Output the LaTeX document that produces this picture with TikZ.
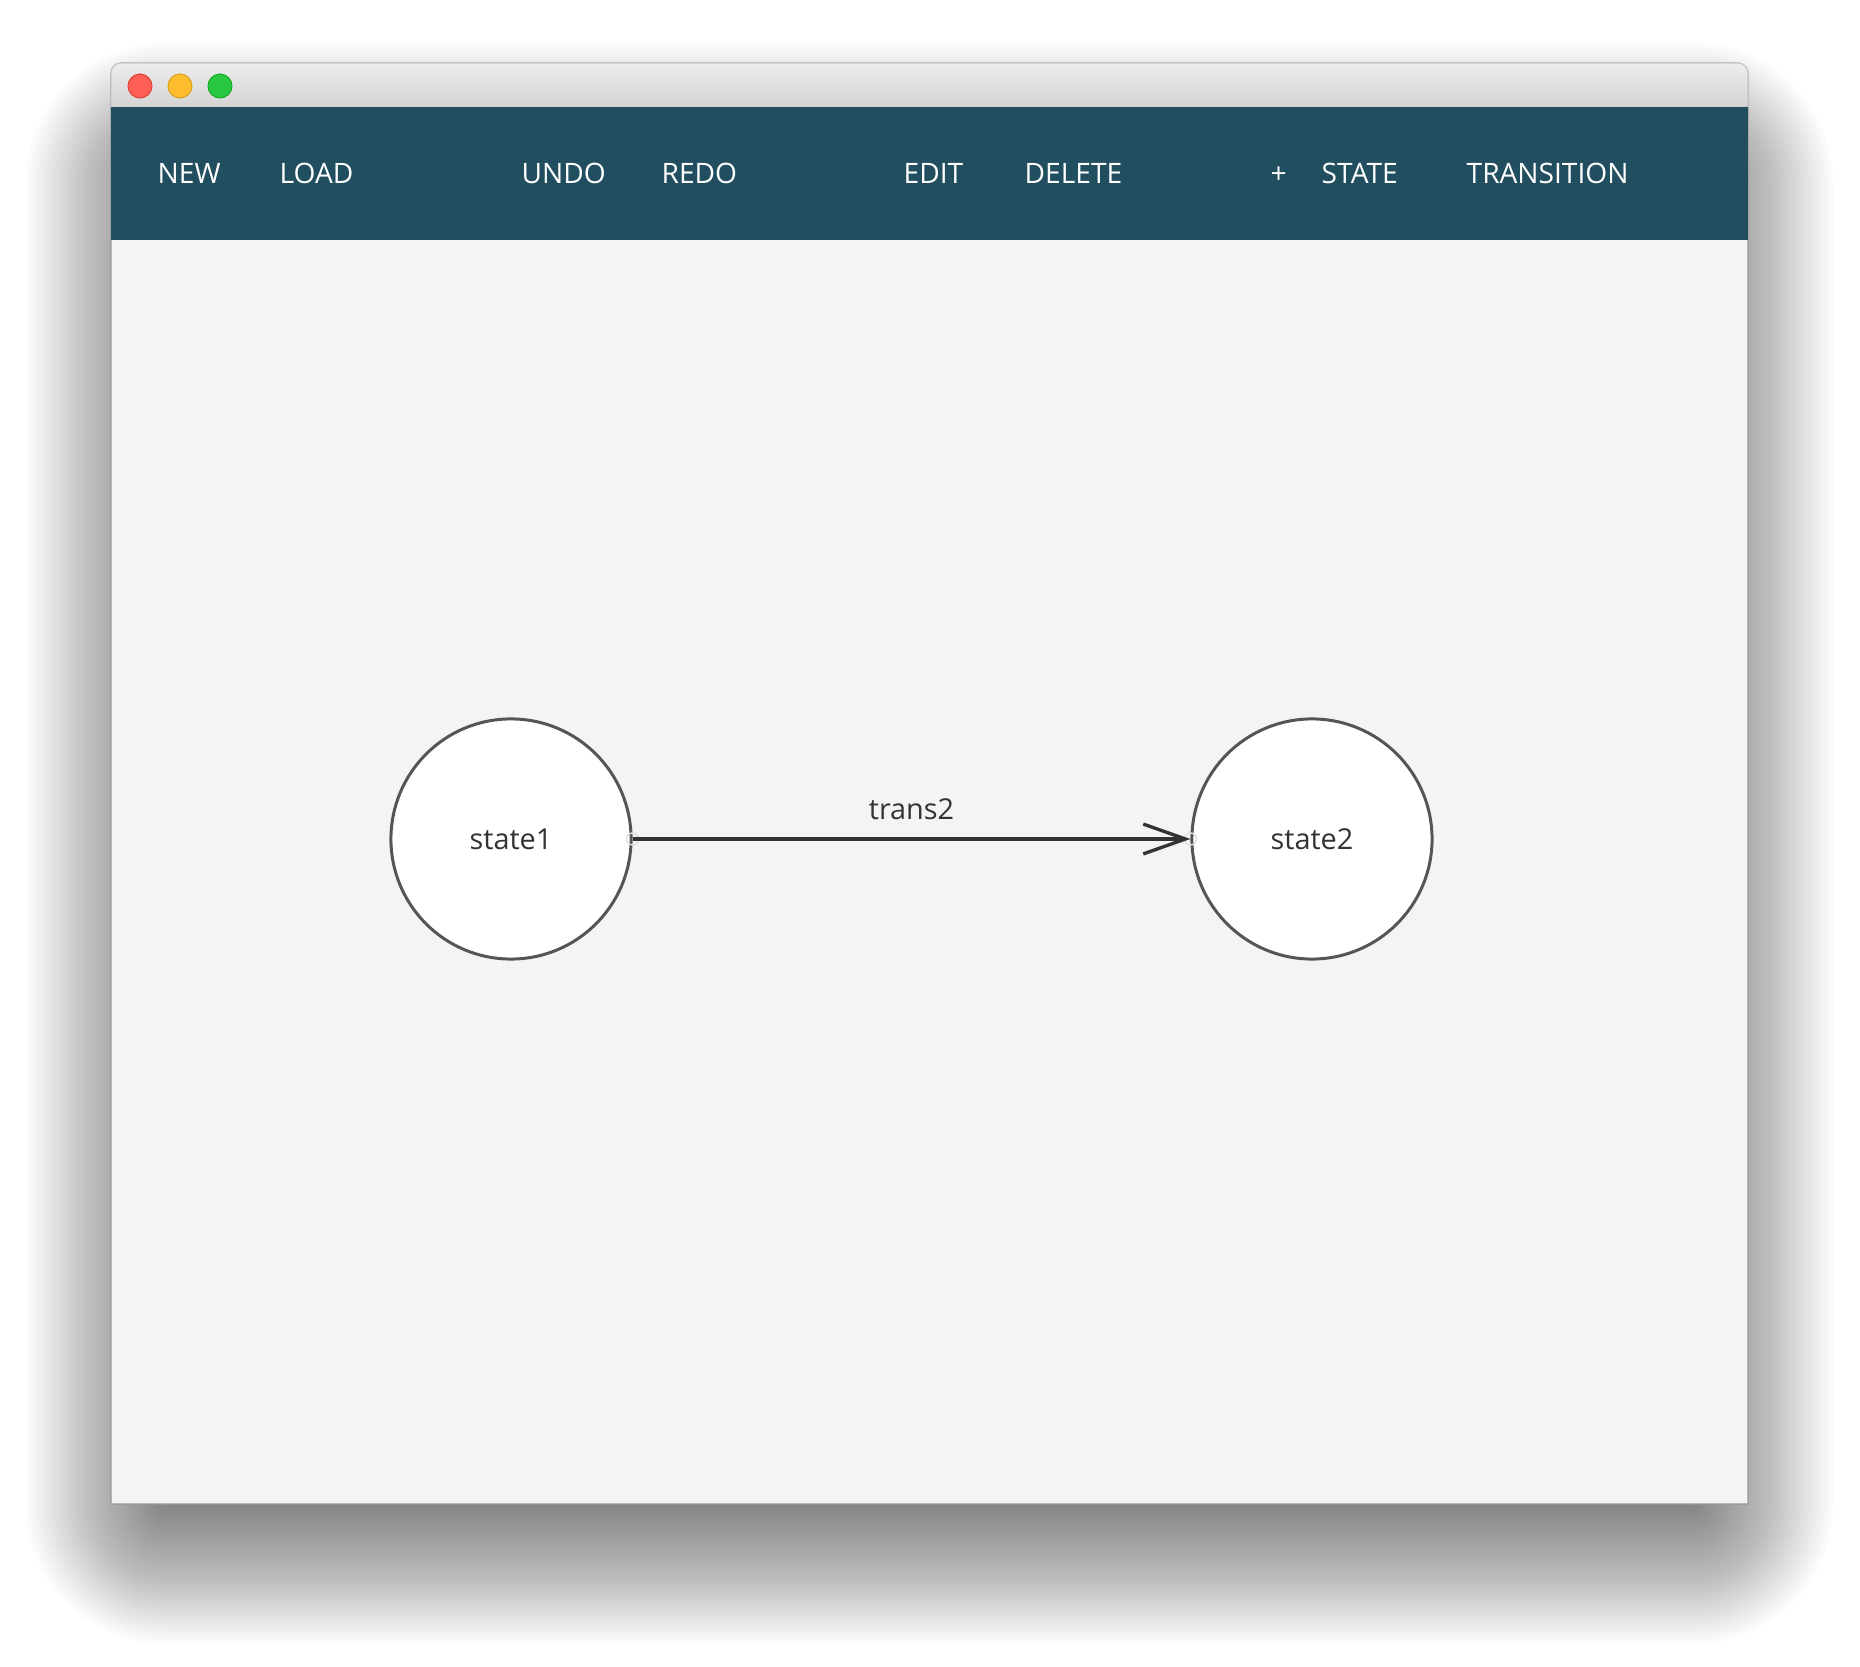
\documentclass[tikz,border=0pt]{standalone}
\usepackage{fontspec}
\setmainfont{Open Sans}
\usetikzlibrary{arrows.meta}
\definecolor{barteal}{HTML}{214F5F}
\definecolor{canvasgray}{HTML}{F4F4F4}
\definecolor{titletop}{HTML}{EDEDED}
\definecolor{titlebot}{HTML}{D4D4D4}
\definecolor{stateline}{HTML}{555555}
\definecolor{inkgray}{HTML}{333333}
\definecolor{tlred}{HTML}{FF5F57}
\definecolor{tlredb}{HTML}{E0443E}
\definecolor{tlyellow}{HTML}{FFBD2E}
\definecolor{tlyellowb}{HTML}{DEA123}
\definecolor{tlgreen}{HTML}{28C940}
\definecolor{tlgreenb}{HTML}{1AAB29}
\begin{document}
\begin{tikzpicture}[x=0.01cm,y=0.01cm,
    tool/.style={text=white,font=\fontsize{8}{9}\selectfont,anchor=base west,inner sep=0pt},
    state/.style={circle,draw=stateline,line width=0.85pt,fill=white,minimum size=2.4cm,inner sep=0pt,
      text=inkgray,font=\fontsize{8.2}{9}\selectfont},
    trans/.style={draw=inkgray,line width=0.95pt,-{Straight Barb[length=12pt,width=8.5pt,line width=0.95pt]}},
    port/.style={draw=black!12,line width=0.4pt}]
    % Page
    \useasboundingbox[fill=white] (0,0) rectangle (1860,1666);

    % Shadow, stacked soft layers
    \foreach \o [evaluate=\o as \r using {max(10,\o+40)}] in {-40,-36,...,100}
      \fill[black,opacity=0.014,rounded corners=\r*0.01cm]
        (126-\o,122-\o) rectangle (1733+\o,1523+\o);

    % Window
    \path[fill=canvasgray,draw=black!40,line width=0.3pt]
      (111,162) [rounded corners=0.1cm] -- (111,1603) -- (1748,1603) [sharp corners] -- (1748,162) -- cycle;

    % Title bar
    \shade[top color=titletop,bottom color=titlebot,draw=black!22,line width=0.3pt]
      (111,1559) [rounded corners=0.1cm] -- (111,1603) -- (1748,1603) [sharp corners] -- (1748,1559) -- cycle;
    \foreach \x/\c/\b in {140/tlred/tlredb, 180/tlyellow/tlyellowb, 220/tlgreen/tlgreenb}
      \draw[fill=\c,draw=\b,line width=0.3pt] (\x,1580) circle (12);

    % Toolbar
    \fill[barteal] (111,1426) rectangle (1748,1559);
    \foreach \x/\lbl [count=\i] in {157/NEW, 279/LOAD, 521/UNDO, 661/REDO, 903/EDIT, 1024/DELETE, 1270/+, 1321/STATE, 1466/TRANSITION}
      \node[tool] (btn\i) at (\x,1482) {\lbl};

    % States
    \node[state] (state1) at (511,827) {state1};
    \node[state] (state2) at (1312,827) {state2};
    \draw[port] (state1.east) circle (6);
    \draw[port] (state2.west) circle (6);

    % Transition
    \draw[trans] (state1) -- (state2)
      node[midway,anchor=base,yshift=0.19cm,text=inkgray,font=\fontsize{8.2}{9}\selectfont] (trans2) {trans2};
\end{tikzpicture}
\end{document}
